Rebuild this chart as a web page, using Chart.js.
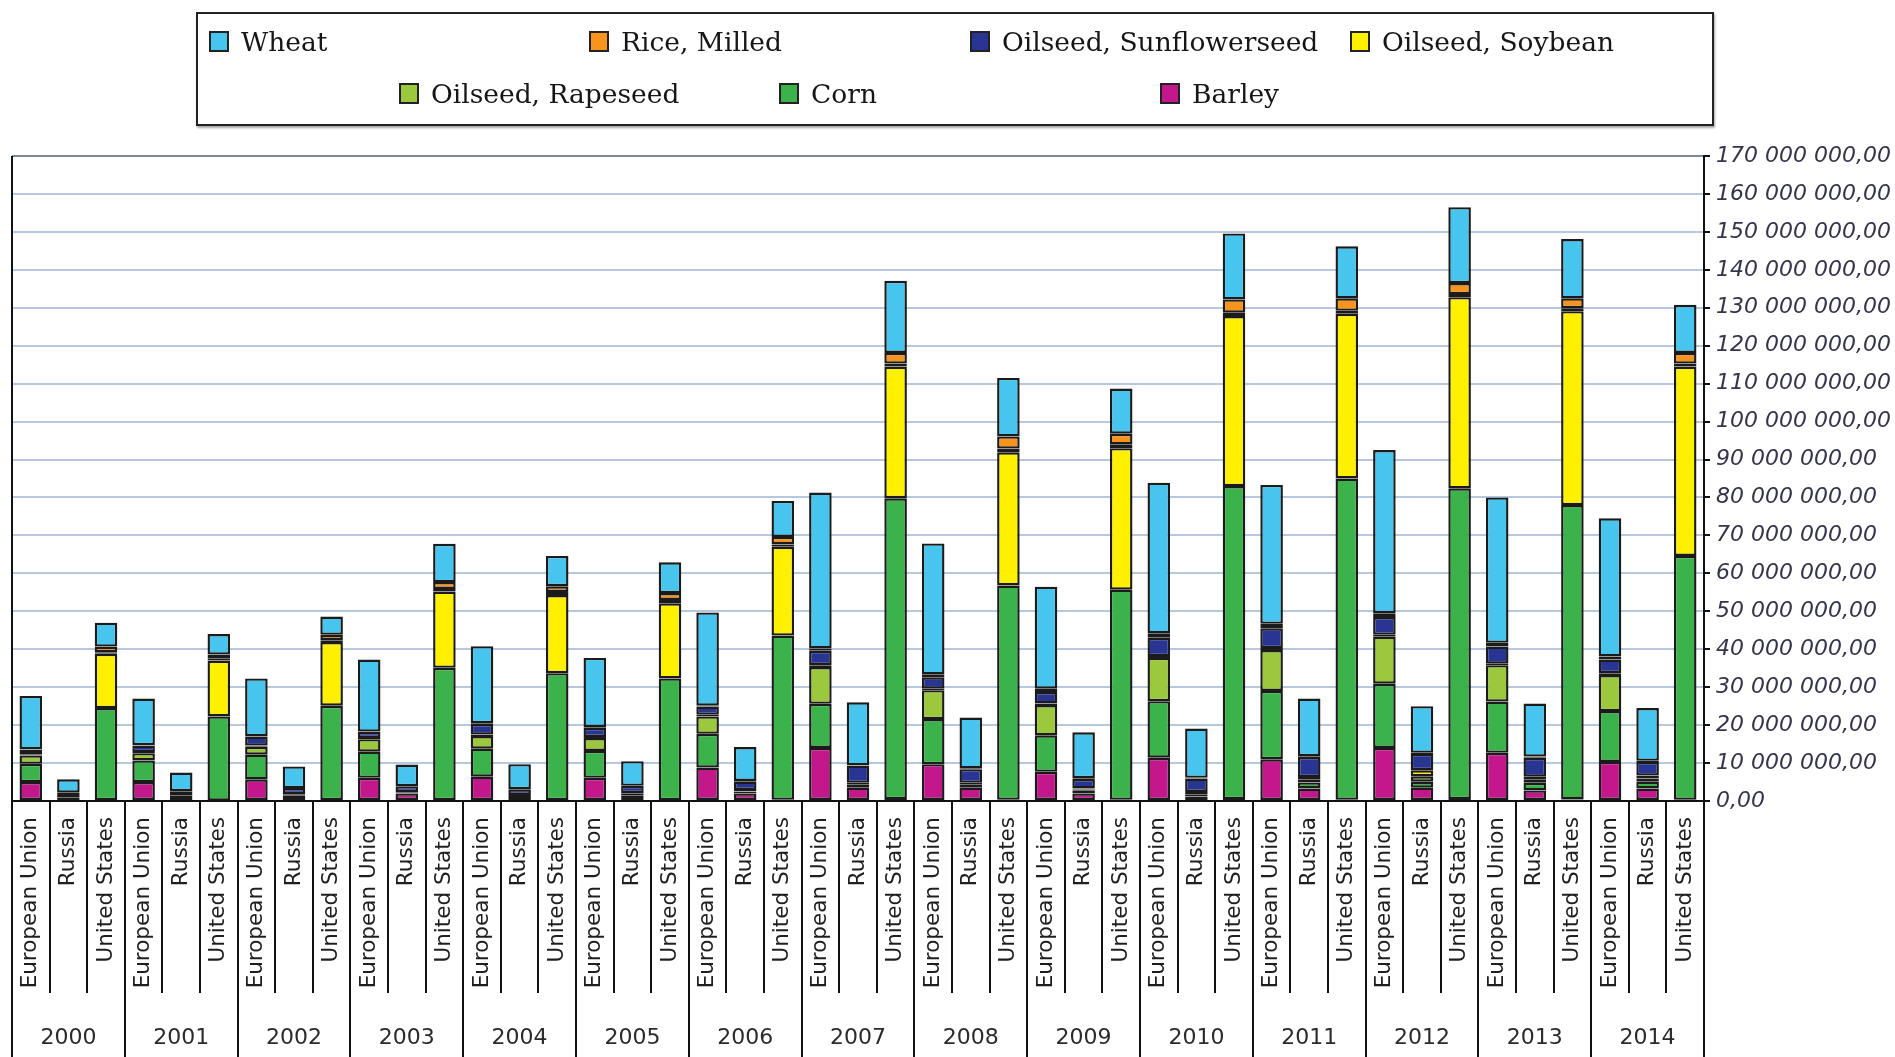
<!DOCTYPE html>
<html>
<head>
<meta charset="utf-8">
<script src="https://cdn.jsdelivr.net/npm/chart.js@4.4.1/dist/chart.umd.min.js"></script>
<style>
  html, body { margin: 0; padding: 0; background: #fff; }
  #wrap { position: relative; width: 1895px; height: 1057px; }
  #legend {
    position: absolute; left: 196px; top: 12px; width: 1514px; height: 110px;
    border: 2px solid #222; box-shadow: 1px 2px 2px rgba(0,0,0,.35); background: #fff;
  }
  .item { position: absolute; display: flex; align-items: center; height: 32px;
    font-family: "DejaVu Serif", serif; font-size: 26.5px; color: #161616; white-space: nowrap; }
  .item i { display: inline-block; width: 16px; height: 17px; border: 2px solid #222; margin-right: 12px; }
</style>
</head>
<body>
<div id="wrap">
  <canvas id="chart"></canvas>
  <div id="legend"></div>
</div>
<script>
// values in millions, order per year: European Union, Russia, United States
const years = ["2000", "2001", "2002", "2003", "2004", "2005", "2006", "2007",
  "2008", "2009", "2010", "2011", "2012", "2013", "2014"];
const countries = ["European Union", "Russia", "United States"];

const barley = [5.0, 1.0, 0.2, 5.0, 1.3, 0.1, 5.7, 1.5, 0.2, 6.1, 2.0, 0.2, 6.4, 1.3, 0.2,
  6.1, 1.4, 0.2, 8.8, 2.0, 0.3, 14.0, 3.5, 0.5, 9.7, 3.5, 0.3, 7.7, 2.0, 0.3,
  11.4, 1.2, 0.5, 11.0, 3.3, 0.3, 14.0, 3.5, 0.5, 12.7, 2.8, 0.4, 10.3, 3.3, 0.3];
const corn = [4.8, 0.3, 24.3, 5.7, 0.2, 22.2, 6.5, 0.3, 24.9, 6.9, 0.3, 34.9, 7.4, 0.3, 33.5,
  7.1, 0.5, 32.1, 8.9, 0.5, 43.3, 11.6, 0.8, 79.3, 11.9, 0.8, 56.5, 9.6, 0.7, 55.4,
  14.9, 0.6, 82.5, 18.0, 1.6, 84.7, 16.9, 1.6, 81.9, 13.5, 2.0, 77.6, 13.4, 1.8, 64.3];
const rapeseed = [2.2, 0, 0, 1.9, 0, 0, 2.1, 0, 0, 3.3, 0, 0, 3.3, 0, 0,
  3.4, 0, 0, 4.6, 0.1, 0, 9.7, 0.2, 0, 7.6, 0.2, 0, 8.0, 0.3, 0,
  11.4, 0.3, 0, 10.8, 0.8, 0, 12.4, 1.4, 0, 9.6, 0.8, 0, 9.5, 0.8, 0];
const soybean = [0.2, 0, 14.3, 0.3, 0, 14.7, 0.3, 0, 16.8, 0.3, 0, 20.1, 0.4, 0, 20.6,
  0.3, 0.2, 19.8, 0.4, 0.3, 23.4, 0.5, 0.3, 34.7, 0.4, 0.3, 35.1, 0.4, 0.3, 37.3,
  0.5, 0.3, 44.8, 0.5, 0.6, 43.4, 0.5, 1.6, 50.4, 0.4, 0.8, 51.1, 0.5, 0.8, 49.9];
const sunflower = [1.3, 0.9, 0.4, 1.7, 1.1, 0.5, 2.4, 1.6, 0.5, 1.6, 1.6, 0.7, 2.8, 1.5, 0.8,
  2.4, 1.9, 0.9, 2.2, 2.2, 0.6, 3.8, 4.5, 0.8, 3.0, 3.6, 1.0, 3.0, 2.5, 1.0,
  4.8, 3.5, 0.9, 5.2, 5.3, 0.8, 4.7, 4.3, 0.8, 4.5, 5.0, 0.8, 3.6, 3.6, 0.8];
const rice = [0.1, 0, 1.5, 0.1, 0, 1.1, 0.1, 0, 1.4, 0.1, 0, 1.8, 0.2, 0, 1.5,
  0.2, 0, 1.8, 0.2, 0.2, 2.0, 0.6, 0.1, 2.8, 0.8, 0.2, 3.2, 0.9, 0.2, 2.8,
  1.2, 0.2, 3.5, 1.2, 0.2, 3.3, 1.0, 0.3, 2.9, 1.0, 0.3, 2.6, 0.8, 0.3, 2.8];
const wheat = [14.1, 3.5, 6.3, 12.3, 4.9, 5.4, 15.2, 5.7, 4.8, 19.0, 5.7, 10.1, 20.3, 6.6, 8.0,
  18.2, 6.5, 8.1, 24.6, 8.9, 9.5, 41.1, 16.6, 19.0, 34.5, 13.4, 15.4, 26.9, 12.1, 11.9,
  39.7, 13.0, 17.4, 36.6, 15.2, 13.7, 43.0, 12.3, 20.0, 38.3, 14.0, 15.6, 36.4, 13.9, 12.7];

// stack order bottom -> top
const series = [
  { label: "Barley", data: barley, color: "#c2188b" },
  { label: "Corn", data: corn, color: "#3bb24a" },
  { label: "Oilseed, Rapeseed", data: rapeseed, color: "#9bc83c" },
  { label: "Oilseed, Soybean", data: soybean, color: "#fff000" },
  { label: "Oilseed, Sunflowerseed", data: sunflower, color: "#283593" },
  { label: "Rice, Milled", data: rice, color: "#f7941d" },
  { label: "Wheat", data: wheat, color: "#47c5ee" },
];

// legend slots: [series label, marker left, row]
const legendSlots = [
  ["Wheat", 209, 0], ["Rice, Milled", 589, 0], ["Oilseed, Sunflowerseed", 970, 0],
  ["Oilseed, Soybean", 1350, 0], ["Oilseed, Rapeseed", 399, 1], ["Corn", 779, 1], ["Barley", 1160, 1],
];

const labels = years.flatMap(() => countries);

function fmt(v) {
  const s = Math.round(v * 1e6).toString().replace(/\B(?=(\d{3})+(?!\d))/g, " ");
  return s + ",00";
}

const legendEl = document.getElementById("legend");
legendSlots.forEach(([name, left, row]) => {
  const s = series.find((x) => x.label === name);
  const d = document.createElement("div");
  d.className = "item";
  d.style.left = (left - 198) + "px";
  d.style.top = (row === 0 ? 11 : 63) + "px";
  d.innerHTML = '<i style="background:' + s.color + '"></i>' + name;
  legendEl.appendChild(d);
});

const groupPlugin = {
  id: "groups",
  afterDraw(chart) {
    const { ctx, chartArea } = chart;
    const n = labels.length;
    const w = (chartArea.right - chartArea.left) / n;
    ctx.save();
    ctx.strokeStyle = "#111";
    ctx.lineWidth = 2;
    for (let i = 0; i <= n; i++) {
      const x = Math.round(chartArea.left + i * w);
      ctx.beginPath();
      ctx.moveTo(x, chartArea.bottom);
      ctx.lineTo(x, i % 3 === 0 ? chart.height : 993);
      ctx.stroke();
    }
    // left border of the plot
    ctx.beginPath();
    ctx.moveTo(chartArea.left, chartArea.top);
    ctx.lineTo(chartArea.left, chartArea.bottom);
    ctx.stroke();
    ctx.fillStyle = "#2b2b2b";
    ctx.font = "22px 'DejaVu Sans'";
    ctx.textAlign = "center";
    ctx.textBaseline = "middle";
    years.forEach((y, k) => {
      ctx.fillText(y, chartArea.left + (k * 3 + 1.5) * w, 1038);
    });
    ctx.restore();
  },
};

new Chart(document.getElementById("chart"), {
  type: "bar",
  data: {
    labels,
    datasets: series.map((s) => ({
      label: s.label,
      data: s.data,
      backgroundColor: s.color,
      borderColor: "#1b1b1b",
      borderWidth: 2.4,
      borderSkipped: false,
      barPercentage: 0.6,
      categoryPercentage: 1.0,
    })),
  },
  options: {
    responsive: true,
    maintainAspectRatio: false,
    animation: false,
    layout: { padding: { top: 156, left: 12, right: 0, bottom: 0 } },
    plugins: { legend: { display: false }, tooltip: { enabled: false } },
    scales: {
      x: {
        stacked: true,
        grid: { display: false },
        border: { color: "#111", width: 2 },
        ticks: {
          minRotation: 90,
          maxRotation: 90,
          autoSkip: false,
          padding: 8,
          color: "#1e1e1e",
          font: { family: "DejaVu Sans", size: 21.5 },
        },
        afterFit: (s) => { s.height = 256; },
      },
      y: {
        stacked: true,
        position: "right",
        min: 0,
        max: 170,
        ticks: {
          stepSize: 10,
          padding: 6,
          color: "#34344a",
          callback: (v) => fmt(v),
          font: { family: "DejaVu Sans", size: 22, style: "italic" },
        },
        grid: {
          color: (c) => (c.tick && c.tick.value === 170 ? "#7d8796" : "#b6c7de"),
          lineWidth: 2,
          tickLength: 6,
          tickColor: "#111",
        },
        border: { color: "#111", width: 2 },
        afterFit: (s) => { s.width = 191; },
      },
    },
  },
  plugins: [groupPlugin],
});
</script>
</body>
</html>
